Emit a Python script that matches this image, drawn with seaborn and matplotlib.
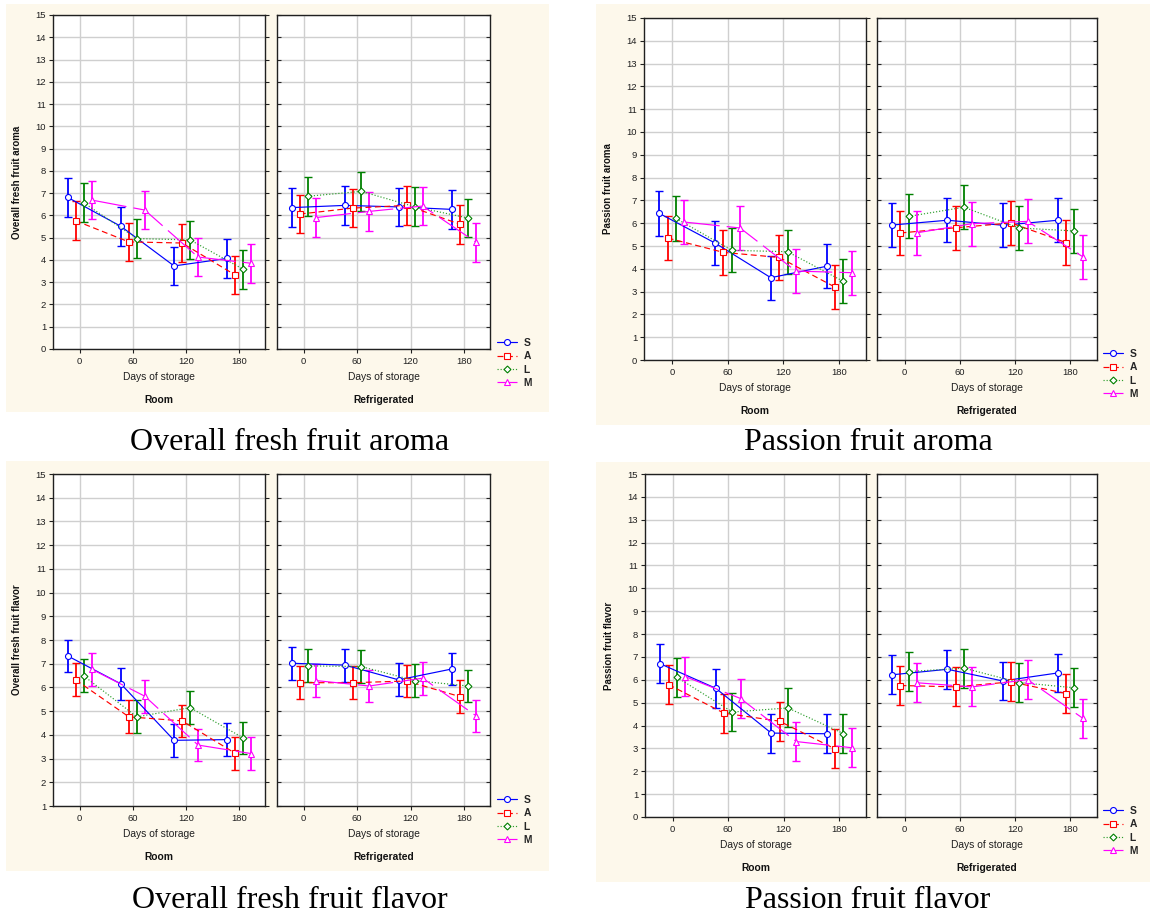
import matplotlib
matplotlib.use("Agg")
import matplotlib.pyplot as plt
import seaborn as sns
import numpy as np
import pandas as pd
from matplotlib.patches import Rectangle

# ---------------------------------------------------------------- data
days = [0, 60, 120, 180]
treatments = ["S", "A", "L", "M"]
conditions = ["Room", "Refrigerated"]
day_ticks = [0, 60, 120, 180]

# Overall fresh fruit aroma
ofa_room = {"S": [6.81, 5.51, 3.73, 4.07], "A": [5.76, 4.81, 4.76, 3.32],
            "L": [6.57, 4.96, 4.90, 3.58], "M": [6.69, 6.24, 4.13, 3.85]}
ofa_refr = {"S": [6.35, 6.45, 6.38, 6.27], "A": [6.06, 6.33, 6.45, 5.60],
            "L": [6.86, 7.08, 6.39, 5.88], "M": [5.90, 6.18, 6.42, 4.79]}
ofa_err = 0.87

# Passion fruit aroma
pfa_room = {"S": [6.43, 5.13, 3.61, 4.11], "A": [5.35, 4.72, 4.50, 3.20],
            "L": [6.21, 4.81, 4.75, 3.45], "M": [6.05, 5.79, 3.90, 3.83]}
pfa_refr = {"S": [5.92, 6.13, 5.91, 6.13], "A": [5.57, 5.80, 6.01, 5.15],
            "L": [6.30, 6.70, 5.79, 5.66], "M": [5.58, 5.98, 6.08, 4.53]}
pfa_err = 0.97

# Overall fresh fruit flavor
off_room = {"S": [7.33, 6.15, 3.77, 3.80], "A": [6.32, 4.76, 4.59, 3.22],
            "L": [6.49, 4.76, 5.15, 3.87], "M": [6.77, 5.63, 3.57, 3.21]}
off_refr = {"S": [7.02, 6.94, 6.32, 6.78], "A": [6.20, 6.20, 6.27, 5.61],
            "L": [6.91, 6.88, 6.29, 6.06], "M": [6.29, 6.06, 6.39, 4.80]}
off_err = 0.69

# Passion fruit flavor
pff_room = {"S": [6.70, 5.63, 3.67, 3.64], "A": [5.79, 4.54, 4.19, 2.98],
            "L": [6.11, 4.59, 4.77, 3.65], "M": [6.14, 5.18, 3.30, 3.03]}
pff_refr = {"S": [6.22, 6.46, 5.95, 6.30], "A": [5.75, 5.69, 5.91, 5.40],
            "L": [6.36, 6.51, 5.88, 5.65], "M": [5.87, 5.69, 6.01, 4.32]}
pff_err = 0.85

captions = ["Overall fresh fruit aroma", "Passion fruit aroma",
            "Overall fresh fruit flavor", "Passion fruit flavor"]
ylabels = ["Overall fresh fruit aroma", "Passion fruit aroma",
           "Overall fresh fruit flavor", "Passion fruit flavor"]

# ---------------------------------------------------------------- styling
colors = {"S": "#0000FF", "A": "#FF0000", "L": "#008000", "M": "#FF00FF"}
line_colors = {"S": "#0000FF", "A": "#FF0000", "L": "#2E9E2E", "M": "#FF00FF"}
markers = {"S": "o", "A": "s", "L": "D", "M": "^"}
msizes = {"S": 4.3, "A": 4.0, "L": 3.5, "M": 4.4}
linestyles = {"S": "-", "A": (0, (5, 3)), "L": (0, (1, 1.6)), "M": (0, (30, 6))}
offsets = {"S": -13.5, "A": -4.5, "L": 4.5, "M": 13.5}
CREAM = "#FDF8EB"

sns.set_theme(style="white")
plt.rcParams["font.family"] = ["Liberation Sans", "DejaVu Sans"]

W, H = 1150, 918
fig = plt.figure(figsize=(W / 100, H / 100), dpi=100)
fig.patch.set_facecolor("white")


def frect(l, t, r, b):
    return [l / W, 1 - b / H, (r - l) / W, (b - t) / H]


panels = [
    dict(data=(ofa_room, ofa_refr), err=ofa_err, ylim=(0, 15),
         bg=(6, 4, 549, 412), room=(53, 15, 265, 349), refr=(277, 15, 490, 349),
         legend=(497, 338), caption=(290, 443)),
    dict(data=(pfa_room, pfa_refr), err=pfa_err, ylim=(0, 15),
         bg=(596, 4, 1150, 425), room=(644, 18, 866, 360), refr=(877, 18, 1097, 360),
         legend=(1103, 349), caption=(868, 443)),
    dict(data=(off_room, off_refr), err=off_err, ylim=(1, 15),
         bg=(6, 461, 549, 871), room=(53, 474, 265, 806), refr=(277, 474, 490, 806),
         legend=(497, 795), caption=(290, 900)),
    dict(data=(pff_room, pff_refr), err=pff_err, ylim=(0, 15),
         bg=(596, 462, 1150, 882), room=(645, 474, 866, 817), refr=(877, 474, 1097, 817),
         legend=(1103, 806), caption=(868, 900)),
]

for p_idx, p in enumerate(panels):
    l, t, r, b = p["bg"]
    fig.patches.append(Rectangle((l / W, 1 - b / H), (r - l) / W, (b - t) / H,
                                 transform=fig.transFigure, facecolor=CREAM,
                                 edgecolor="none", zorder=-10))
    legend_lines = []
    for c_idx, (cond, box) in enumerate(zip(conditions, (p["room"], p["refr"]))):
        ax = fig.add_axes(frect(*box))
        ax.set_facecolor("white")
        series = p["data"][c_idx]
        legend_lines = []
        for trt in treatments:
            df = pd.DataFrame({"day": np.array(days) + offsets[trt],
                               "score": series[trt]})
            ax.errorbar(df["day"], df["score"], yerr=p["err"], fmt="none",
                        ecolor=colors[trt], elinewidth=1.3, capsize=2.6,
                        capthick=1.0, zorder=2)
            sns.lineplot(data=df, x="day", y="score", ax=ax, errorbar=None,
                         color=line_colors[trt], linestyle=linestyles[trt],
                         linewidth=0.85, marker=markers[trt],
                         markersize=msizes[trt], markeredgecolor=colors[trt],
                         markerfacecolor="white", markeredgewidth=0.8,
                         legend=False, zorder=3)
            legend_lines.append(ax.lines[-1])
        ax.set_xlim(-30, 209)
        ax.set_ylim(*p["ylim"])
        ax.set_xticks(day_ticks)
        ax.set_yticks(range(p["ylim"][0], 16))
        ax.grid(True, color="#CFCFCF", linewidth=1.0, zorder=0)
        ax.set_axisbelow(True)
        for s in ax.spines.values():
            s.set_color("#202020")
            s.set_linewidth(1.0)
        ax.tick_params(axis="x", which="both", direction="out", length=3,
                       width=0.8, labelsize=6.8, colors="#202020", pad=3,
                       bottom=True)
        if c_idx == 0:
            ax.tick_params(axis="y", direction="out", length=3, width=0.8,
                           labelsize=6.8, colors="#202020", pad=2, left=True,
                           right=True)
            ax.set_ylabel(ylabels[p_idx], fontsize=7, fontweight="bold",
                          color="#111111")
            ax.yaxis.set_label_coords(-31 / (box[2] - box[0]), 0.5)
        else:
            ax.tick_params(axis="y", direction="in", length=3, width=0.8,
                           left=True, right=True, labelleft=False)
            ax.set_ylabel("")
        ax.set_xlabel("Days of storage", fontsize=7.4, color="#202020",
                      labelpad=4)
        ax.annotate(cond, xy=(0.5, 0), xycoords="axes fraction",
                    xytext=(0, -51), textcoords="offset pixels",
                    ha="center", va="center", fontsize=7.4,
                    fontweight="bold", color="#111111")
    # treatment legend to the right of the refrigerated axes
    lx, ly = p["legend"]
    leg = ax.legend(legend_lines, treatments, loc="upper left",
                    bbox_to_anchor=(lx / W, 1 - ly / H),
                    bbox_transform=fig.transFigure, frameon=False,
                    fontsize=7.4, handlelength=1.9, handletextpad=0.7,
                    labelspacing=0.32, borderpad=0.0, borderaxespad=0.0)
    for txt in leg.get_texts():
        txt.set_fontweight("bold")
    cx, cy = p["caption"]
    fig.text(cx / W, 1 - cy / H, captions[p_idx], ha="center", va="center",
             fontsize=23, family=["Liberation Serif", "DejaVu Serif"],
             color="black")

fig.savefig("out.png", dpi=100)
